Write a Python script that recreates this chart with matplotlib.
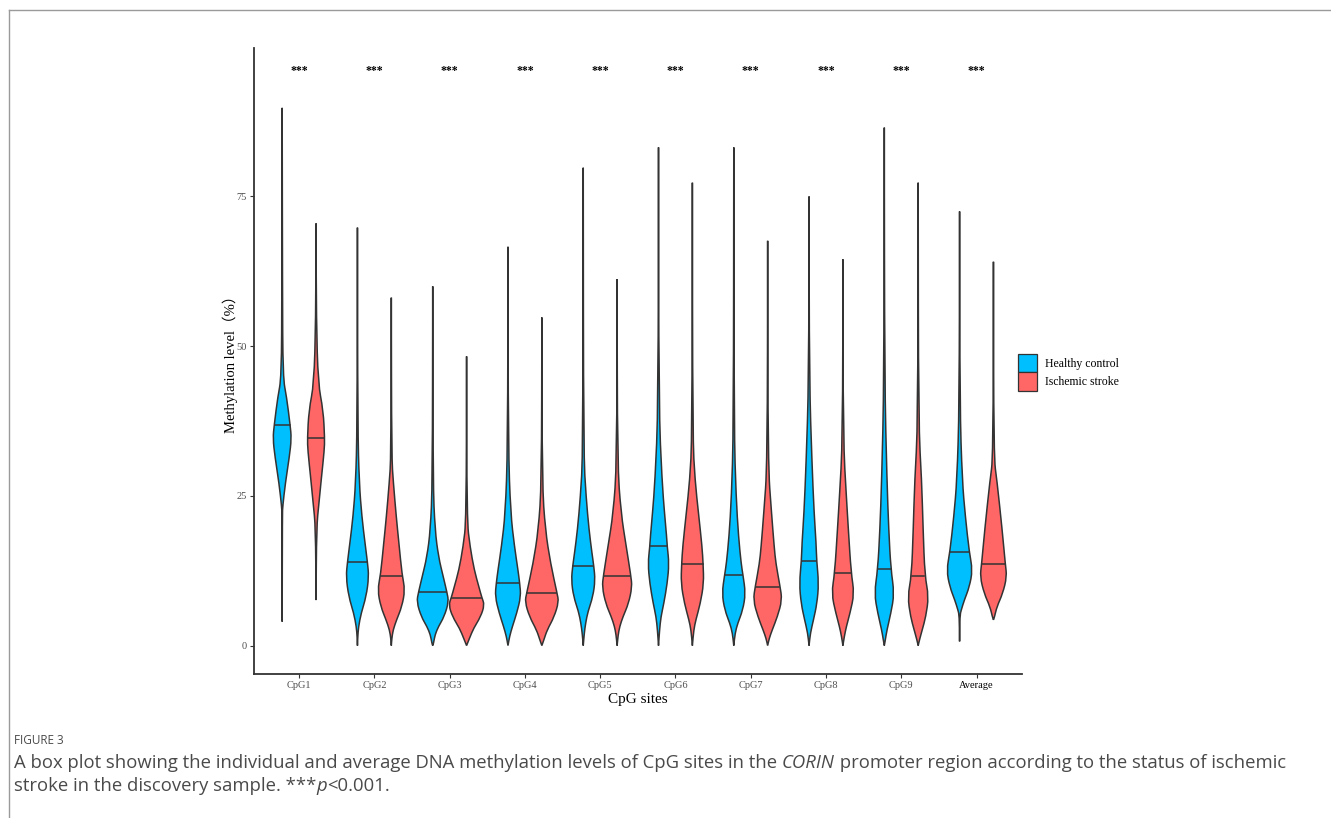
"""
Violin plot of CpG methylation levels, healthy control vs ischemic stroke
"""
import matplotlib
matplotlib.use("Agg")
import matplotlib.pyplot as plt
from matplotlib.patches import Patch, PathPatch
from matplotlib.path import Path
from matplotlib.lines import Line2D
import numpy as np

sites = ["CpG1", "CpG2", "CpG3", "CpG4", "CpG5", "CpG6", "CpG7", "CpG8", "CpG9", "Average"]
groups = ["Healthy control", "Ischemic stroke"]
group_colors = ["#00BFFF", "#FF6666"]
y_ticks = [0, 25, 50, 75]
signif = ["***"] * 10

healthy_median = [36.9, 14.0, 8.9, 10.4, 13.3, 16.6, 11.8, 14.1, 12.8, 15.6]
stroke_median = [34.6, 11.7, 7.9, 8.7, 11.7, 13.7, 9.8, 12.1, 11.7, 13.7]

# violin outlines: levels (top -> bottom) and relative density
healthy_levels = [
    [89.8, 59.6, 44.8, 41.5, 36.9, 34.6, 31.5, 27.1, 23.2, 22.0, 4.0],
    [69.8, 36.5, 27.1, 21.5, 17.1, 13.9, 11.5, 8.2, 5.4, 3.1, 1.4, 0.0],
    [60.0, 27.1, 19.3, 14.8, 11.5, 8.9, 7.3, 4.8, 3.2, 1.8, 0.4, 0.0],
    [66.6, 33.2, 22.1, 16.5, 12.6, 10.3, 8.2, 5.4, 3.2, 1.5, 0.0],
    [79.8, 32.1, 24.8, 19.3, 15.4, 13.3, 10.95, 8.2, 5.7, 3.8, 2.1, 0.0],
    [83.2, 39.8, 27.6, 22.1, 18.2, 16.5, 13.7, 10.4, 7.0, 4.8, 2.6, 0.0],
    [83.2, 36.0, 24.8, 18.2, 13.7, 11.8, 8.7, 5.9, 3.7, 2.1, 0.0],
    [75.0, 44.3, 30.4, 22.1, 17.1, 14.2, 10.4, 7.0, 4.3, 2.1, 0.0],
    [86.5, 44.3, 27.6, 19.3, 12.8, 8.7, 5.4, 2.6, 1.0, 0.0],
    [72.5, 40.0, 27.6, 21.5, 15.6, 12.6, 9.8, 7.6, 5.9, 5.0, 0.7],
]
healthy_density = [
    [0, 0.3, 0.7, 4.2, 7.5, 8.8, 6.8, 3.0, 0.5, 0.2, 0],
    [0, 0.3, 1.7, 4.2, 7.2, 9.5, 10.8, 8.3, 3.5, 1.0, 0.3, 0],
    [0, 0.3, 2.2, 5.5, 10.0, 13.5, 15.2, 10.8, 5.5, 2.2, 0.8, 0],
    [0, 0.3, 2.5, 6.2, 9.5, 11.2, 12.2, 8.3, 4.2, 1.5, 0],
    [0, 0.3, 2.7, 5.5, 8.3, 10.0, 11.3, 9.2, 4.5, 2.3, 1.0, 0],
    [0, 0.3, 3.3, 5.7, 7.7, 8.3, 10.0, 8.3, 5.0, 2.3, 1.0, 0],
    [0, 0.3, 2.2, 4.5, 7.0, 8.7, 11.2, 8.5, 3.7, 1.3, 0],
    [0, 0.3, 2.8, 4.8, 6.7, 7.2, 9.2, 7.5, 4.2, 1.3, 0],
    [0, 0.3, 2.5, 4.2, 6.2, 9.5, 6.2, 2.5, 1.0, 0],
    [0, 0.3, 2.5, 5.5, 9.2, 12.3, 9.3, 4.5, 1.5, 0.3, 0],
]
stroke_levels = [
    [70.5, 54.3, 43.7, 39.3, 34.6, 32.6, 28.2, 23.7, 19.8, 7.6],
    [58.1, 31.5, 27.1, 21.5, 17.1, 11.8, 9.3, 6.5, 4.3, 2.6, 1.2, 0.0],
    [48.3, 21.0, 16.5, 12.6, 9.8, 8.0, 6.8, 4.8, 2.9, 1.2, 0.0],
    [54.8, 27.1, 19.3, 13.7, 8.7, 7.3, 4.8, 2.6, 1.0, 0.0],
    [61.2, 30.4, 22.1, 16.5, 11.7, 9.8, 7.0, 4.8, 3.2, 1.8, 0.0],
    [77.3, 34.8, 27.6, 22.1, 16.5, 13.6, 10.4, 7.0, 4.3, 2.6, 0.0],
    [67.6, 30.4, 22.1, 16.5, 13.7, 9.95, 7.6, 4.8, 2.6, 1.2, 0.0],
    [64.5, 34.3, 24.8, 19.3, 12.1, 8.7, 5.4, 3.2, 1.5, 0.0],
    [77.3, 37.1, 27.6, 19.3, 11.7, 8.2, 4.8, 2.6, 1.0, 0.0],
    [64.1, 31.5, 27.6, 19.3, 13.7, 11.5, 8.7, 6.5, 4.8, 4.3],
]
stroke_density = [
    [0, 0.3, 2.0, 6.8, 8.2, 7.8, 5.2, 2.7, 0.5, 0],
    [0, 0.3, 2.0, 4.7, 7.2, 10.2, 13.0, 10.0, 5.0, 1.7, 0.5, 0],
    [0, 0.3, 3.3, 7.3, 11.7, 14.5, 17.0, 13.3, 6.7, 2.7, 0],
    [0, 0.3, 3.3, 8.3, 14.5, 16.0, 11.7, 5.0, 2.0, 0],
    [0, 0.3, 3.7, 8.7, 13.0, 14.2, 10.8, 5.5, 2.5, 1.0, 0],
    [0, 0.3, 2.5, 5.8, 9.2, 10.2, 10.8, 7.5, 3.3, 1.3, 0],
    [0, 0.3, 3.7, 6.2, 7.8, 11.7, 13.7, 9.2, 4.3, 1.5, 0],
    [0, 0.3, 3.3, 5.2, 7.8, 10.8, 6.7, 3.3, 1.3, 0],
    [0, 0.3, 3.3, 4.7, 6.3, 10.0, 7.2, 3.8, 1.3, 0],
    [0, 0.3, 3.3, 8.3, 11.2, 12.7, 8.8, 3.3, 1.0, 0],
]

SERIF = "Liberation Serif"
EDGE = "#333333"
DODGE = 0.45
WIDTH_SCALE = 0.238 / 17.0


def violin_path(xs, ys):
    # closed outline drawn as quadratic curves through the midpoints
    pts = np.column_stack([xs, ys])
    mids = (pts + np.roll(pts, -1, axis=0)) / 2
    verts = [mids[-1]]
    codes = [Path.MOVETO]
    for k in range(len(pts)):
        verts += [pts[k], mids[k]]
        codes += [Path.CURVE3, Path.CURVE3]
    return Path(verts, codes)


fig = plt.figure(figsize=(13.31, 8.18), dpi=100)
ax = fig.add_axes([0.1908, 0.176, 0.5768, 0.765])

all_levels = [healthy_levels, stroke_levels]
all_density = [healthy_density, stroke_density]
all_median = [healthy_median, stroke_median]

for i in range(len(sites)):
    for g in range(len(groups)):
        xc = i + 1 + (g - 0.5) * DODGE
        ys = np.array(all_levels[g][i], dtype=float)
        hw = np.array(all_density[g][i], dtype=float) * WIDTH_SCALE
        xs = np.concatenate([xc - hw, (xc + hw)[::-1]])
        yy = np.concatenate([ys, ys[::-1]])
        ax.add_patch(PathPatch(violin_path(xs, yy), facecolor=group_colors[g],
                               edgecolor=EDGE, linewidth=1.1, zorder=2))
        med = all_median[g][i]
        w = np.interp(med, ys[::-1], hw[::-1]) * 0.95
        ax.plot([xc - w, xc + w], [med, med], color=EDGE, linewidth=1.1, zorder=3)
    ax.text(i + 1, 96, signif[i], ha="center", va="center", fontsize=8.5,
            fontweight="bold", family=SERIF, color="black")

ax.set_xlim(0.4, 10.6)
ax.set_ylim(-4.75, 99.75)
ax.set_xticks(range(1, len(sites) + 1))
ax.set_xticklabels(sites)
ax.set_yticks(y_ticks)
for s in ["top", "right"]:
    ax.spines[s].set_visible(False)
for s in ["left", "bottom"]:
    ax.spines[s].set_color("#333333")
    ax.spines[s].set_linewidth(1.3)
ax.tick_params(axis="both", length=3, width=0.8, color="#333333",
               labelsize=7.5, labelcolor="#4D4D4D", pad=2)
for lab in ax.get_xticklabels() + ax.get_yticklabels():
    lab.set_family(SERIF)
ax.get_xticklabels()[-1].set_color("black")

ax.set_xlabel("CpG sites", family=SERIF, fontsize=11, labelpad=2)
ax.set_ylabel("Methylation level（%）", family=[SERIF, "Noto Sans CJK SC"], fontsize=10.5,
              labelpad=-1)

handles = [Patch(facecolor=c, edgecolor=EDGE, linewidth=0.9) for c in group_colors]
leg = fig.legend(handles, groups, loc="center left", bbox_to_anchor=(0.757, 0.545),
                 frameon=False, prop={"family": SERIF, "size": 8.5},
                 handlelength=1.6, handleheight=2.0, handletextpad=0.7,
                 labelspacing=0.05)

# page frame
fig.add_artist(Line2D([9 / 1331, 1], [1 - 10 / 818] * 2, color="#9A9A9A", lw=1.0))
fig.add_artist(Line2D([9 / 1331] * 2, [0, 1 - 10 / 818], color="#9A9A9A", lw=1.0))

# caption
CAP_FONT = "Open Sans"
CAP_COLOR = "#4A4A4A"
fig.text(14 / 1331, 1 - 740 / 818, "FIGURE 3", family=CAP_FONT, fontsize=8.5,
         color=CAP_COLOR, va="center", ha="left")

renderer = fig.canvas.get_renderer()


def draw_line(parts, y_px):
    x = 14 / 1331
    for txt, style in parts:
        t = fig.text(x, 1 - y_px / 818, txt, family=CAP_FONT, fontsize=13.3,
                     style=style, color=CAP_COLOR, va="center", ha="left")
        bb = t.get_window_extent(renderer)
        x += bb.width / 1331


draw_line([("A box plot showing the individual and average DNA methylation levels of CpG sites in the ", "normal"),
           ("CORIN", "italic"),
           (" promoter region according to the status of ischemic", "normal")], 763)
draw_line([("stroke in the discovery sample. ***", "normal"),
           ("p", "italic"),
           ("<0.001.", "normal")], 786)

fig.savefig("out.png", dpi=100)
